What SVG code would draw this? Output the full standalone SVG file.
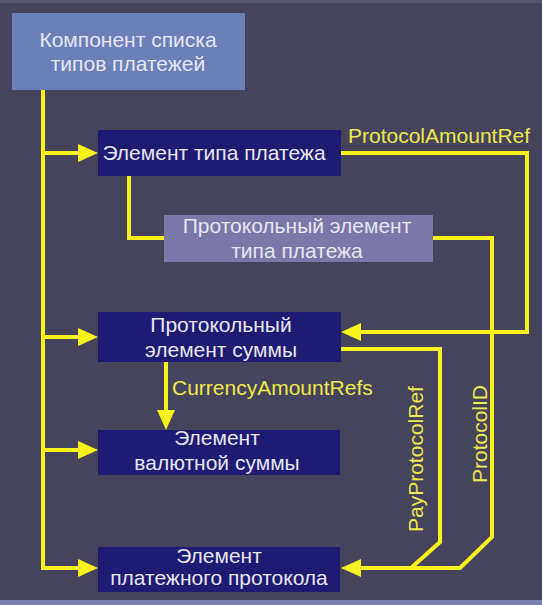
<svg xmlns="http://www.w3.org/2000/svg" width="542" height="605" viewBox="0 0 542 605">
  <style>
    .node-text { font-family: "Liberation Sans", Arial, sans-serif; font-size: 21px; fill: #e6e6f0; text-anchor: middle; }
    .label { font-family: "Liberation Sans", Arial, sans-serif; font-size: 21px; fill: #eee84c; }
    .conn { fill: none; stroke: #f7f21c; stroke-width: 4; stroke-linejoin: miter; }
    .dark { fill: #1f1b72; }
  </style>
  <defs>
    <marker id="arrow" markerUnits="userSpaceOnUse" markerWidth="20" markerHeight="18" refX="2" refY="9" orient="auto">
      <path d="M0,0 L20,9 L0,18 z" fill="#f7f21c"/>
    </marker>
  </defs>

  <rect x="0" y="0" width="542" height="605" fill="#46435c"/>
  <rect x="0" y="0" width="542" height="3" fill="#57556c"/>
  <rect x="0" y="600" width="542" height="5" fill="#7880b0"/>

  <g id="connectors">
    <path class="conn" d="M43,90 V568 H80" marker-end="url(#arrow)"/>
    <path class="conn" d="M43,153 H80" marker-end="url(#arrow)"/>
    <path class="conn" d="M43,337 H80" marker-end="url(#arrow)"/>
    <path class="conn" d="M43,450 H80" marker-end="url(#arrow)"/>
    <path class="conn" d="M129,176 V238 H164"/>
    <path class="conn" d="M341,153 H527 V332 H359" marker-end="url(#arrow)"/>
    <path class="conn" d="M433,238 H492 V537 L460,568 H359" marker-end="url(#arrow)"/>
    <path class="conn" d="M341,349 H440 V542 L411,568"/>
    <path class="conn" d="M166,362 V412" marker-end="url(#arrow)"/>
    <text class="label" x="348" y="143">ProtocolAmountRef</text>
    <text class="label" x="172" y="395">CurrencyAmountRefs</text>
    <text class="label" font-size="20" transform="translate(423,532) rotate(-90)">PayProtocolRef</text>
    <text class="label" font-size="20" transform="translate(487,483) rotate(-90)">ProtocolID</text>
  </g>

  <g id="node-payment-types-component">
    <rect x="12" y="13" width="233" height="77" fill="#6b7fb9"/>
    <text class="node-text" x="128" y="47">Компонент списка</text>
    <text class="node-text" x="128" y="71">типов платежей</text>
  </g>

  <g id="node-payment-type-element">
    <rect class="dark" x="98" y="130" width="243" height="46"/>
    <text class="node-text" x="214" y="160">Элемент типа платежа</text>
  </g>

  <g id="node-protocol-payment-type-element">
    <rect x="164" y="215" width="269" height="47" fill="#7b77a9"/>
    <text class="node-text" x="297" y="233">Протокольный элемент</text>
    <text class="node-text" x="297" y="258">типа платежа</text>
  </g>

  <g id="node-protocol-amount-element">
    <rect class="dark" x="98" y="312" width="243" height="50"/>
    <text class="node-text" x="221" y="332">Протокольный</text>
    <text class="node-text" x="221" y="357">элемент суммы</text>
  </g>

  <g id="node-currency-amount-element">
    <rect class="dark" x="98" y="430" width="242" height="45"/>
    <text class="node-text" x="217" y="445">Элемент</text>
    <text class="node-text" x="217" y="470">валютной суммы</text>
  </g>

  <g id="node-payment-protocol-element">
    <rect class="dark" x="98" y="547" width="242" height="45"/>
    <text class="node-text" x="219" y="563">Элемент</text>
    <text class="node-text" x="219" y="585">платежного протокола</text>
  </g>
</svg>
